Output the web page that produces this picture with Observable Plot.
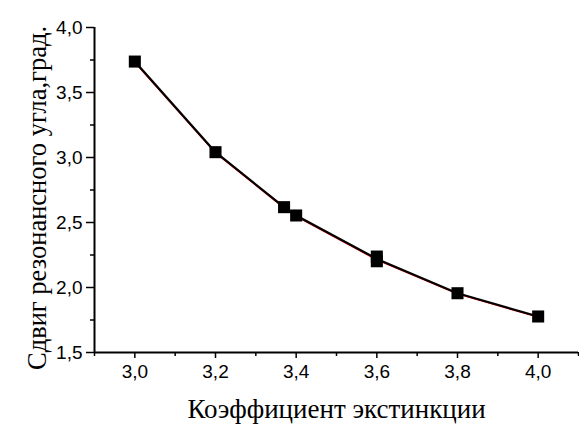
<!DOCTYPE html>
<html>
<head>
<meta charset="utf-8">
<script src="https://cdn.jsdelivr.net/npm/d3@7"></script>
<script src="https://cdn.jsdelivr.net/npm/@observablehq/plot@0.6"></script>
<style>
  html, body { margin: 0; padding: 0; background: white; }
</style>
</head>
<body>
<div id="chart"></div>
<script>
// Data
const extinction = [3.0, 3.2, 3.37, 3.4, 3.6, 3.6, 3.8, 4.0];
const shift = [3.738, 3.041, 2.618, 2.554, 2.238, 2.202, 1.956, 1.777];
const fitX = [3.0, 3.2, 3.37, 3.4, 3.6, 3.8, 4.0];
const fitY = [3.730, 3.034, 2.611, 2.547, 2.212, 1.950, 1.771];
const xMajorTicks = [3.0, 3.2, 3.4, 3.6, 3.8, 4.0];
const xMinorTicks = [2.9, 3.1, 3.3, 3.5, 3.7, 3.9, 4.1];
const yMajorTicks = [1.5, 2.0, 2.5, 3.0, 3.5, 4.0];
const yMinorTicks = [1.75, 2.25, 2.75, 3.25, 3.75];
const xTitle = "Коэффициент экстинкции";
const yTitle = "Сдвиг резонансного угла,град.";

const points = extinction.map((x, i) => ({x, y: shift[i]}));
const lineData = [0, 1, 2, 3, 4, 6, 7].map(i => ({x: extinction[i], y: i === 4 ? (shift[4] + shift[5]) / 2 : shift[i]}));
const fit = fitX.map((x, i) => ({x, y: fitY[i]}));
const fmt = d => d.toFixed(1).replace(".", ",");

const chart = Plot.plot({
  width: 579,
  height: 424,
  marginLeft: 94,
  marginRight: 1,
  marginTop: 27,
  marginBottom: 72,
  x: {domain: [2.9, 4.1]},
  y: {domain: [1.5, 4.0]},
  style: {fontFamily: "Liberation Sans, Arial, sans-serif", fontSize: "19px", color: "black", background: "white"},
  marks: [
    Plot.axisX(xMinorTicks, {tickSize: 4, tickFormat: () => "", strokeWidth: 1.5, label: null}),
    Plot.axisX(xMajorTicks, {tickSize: 6, tickPadding: 6, tickFormat: fmt, strokeWidth: 1.5, label: null}),
    Plot.axisY(yMinorTicks, {tickSize: 4, tickFormat: () => "", strokeWidth: 1.5, label: null}),
    Plot.axisY(yMajorTicks, {tickSize: 8, tickPadding: 4, tickFormat: fmt, strokeWidth: 1.5, label: null}),
    Plot.ruleX([2.9], {stroke: "black", strokeWidth: 2}),
    Plot.ruleY([1.5], {stroke: "black", strokeWidth: 2}),
    Plot.line(fit, {x: "x", y: "y", stroke: "red", strokeWidth: 1.2}),
    Plot.line(lineData, {x: "x", y: "y", stroke: "black", strokeWidth: 2.2}),
    Plot.dot(points, {x: "x", y: "y", symbol: "square", r: 6.8, fill: "black", stroke: "none"}),
    Plot.text([xTitle], {frameAnchor: "bottom", textAnchor: "middle", dy: 57, lineAnchor: "middle", fontSize: 27, fontFamily: "Liberation Serif, Times New Roman, serif"}),
    Plot.text([yTitle], {frameAnchor: "left", textAnchor: "middle", dx: -57, dy: 8, rotate: -90, lineAnchor: "middle", fontSize: 26.5, fontFamily: "Liberation Serif, Times New Roman, serif"})
  ]
});
document.getElementById("chart").appendChild(chart);
</script>
</body>
</html>
